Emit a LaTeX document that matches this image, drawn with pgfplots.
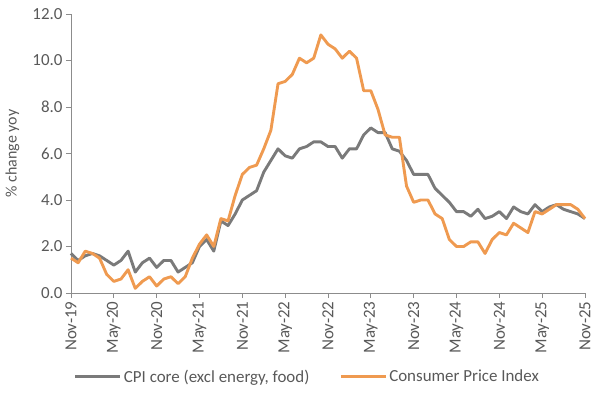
\documentclass[border=0pt]{standalone}
\usepackage{pgfplots}
\pgfplotsset{compat=1.18}
\usepackage{pgfplotstable}
\usepackage{fontspec}
\setmainfont{Carlito}
\definecolor{coregrey}{HTML}{7A7A7A}
\definecolor{cpiorange}{HTML}{EF9A50}
\definecolor{txtgrey}{HTML}{595959}
\definecolor{axgrey}{HTML}{8C8C8C}
\pgfplotstableread{
x core cpi
0 1.7 1.5
1 1.4 1.3
2 1.6 1.8
3 1.7 1.7
4 1.6 1.5
5 1.4 0.8
6 1.2 0.5
7 1.4 0.6
8 1.8 1.0
9 0.9 0.2
10 1.3 0.5
11 1.5 0.7
12 1.1 0.3
13 1.4 0.6
14 1.4 0.7
15 0.9 0.4
16 1.1 0.7
17 1.3 1.5
18 2.0 2.1
19 2.3 2.5
20 1.8 2.0
21 3.1 3.2
22 2.9 3.1
23 3.4 4.2
24 4.0 5.1
25 4.2 5.4
26 4.4 5.5
27 5.2 6.2
28 5.7 7.0
29 6.2 9.0
30 5.9 9.1
31 5.8 9.4
32 6.2 10.1
33 6.3 9.9
34 6.5 10.1
35 6.5 11.1
36 6.3 10.7
37 6.3 10.5
38 5.8 10.1
39 6.2 10.4
40 6.2 10.1
41 6.8 8.7
42 7.1 8.7
43 6.9 7.9
44 6.9 6.8
45 6.2 6.7
46 6.1 6.7
47 5.7 4.6
48 5.1 3.9
49 5.1 4.0
50 5.1 4.0
51 4.5 3.4
52 4.2 3.2
53 3.9 2.3
54 3.5 2.0
55 3.5 2.0
56 3.3 2.2
57 3.6 2.2
58 3.2 1.7
59 3.3 2.3
60 3.5 2.6
61 3.2 2.5
62 3.7 3.0
63 3.5 2.8
64 3.4 2.6
65 3.8 3.5
66 3.5 3.4
67 3.7 3.6
68 3.8 3.8
69 3.6 3.8
70 3.5 3.8
71 3.4 3.6
72 3.2 3.2
}\datatable
\begin{document}
\begin{tikzpicture}
\begin{axis}[
  scale only axis,
  width=514bp, height=279bp,
  xmin=0, xmax=72, ymin=0, ymax=12,
  axis x line*=bottom, axis y line*=left,
  axis line style={axgrey, line width=0.8bp, -},
  xtick={0,6,...,72},
  xticklabels={Nov-19,May-20,Nov-20,May-21,Nov-21,May-22,Nov-22,May-23,Nov-23,May-24,Nov-24,May-25,Nov-25},
  xticklabel style={rotate=90, anchor=east, font=\fontsize{17}{20}\selectfont, text=txtgrey},
  ytick={0,2,...,12},
  yticklabel style={font=\fontsize{17}{20}\selectfont, text=txtgrey},
  /pgf/number format/.cd, fixed, fixed zerofill, precision=1, assume math mode=true,
  /pgfplots/.cd,
  tick align=outside,
  major tick length=5bp,
  tick style={axgrey, line width=0.8bp},
  ylabel={\% change yoy},
  ylabel style={font=\fontsize{16}{19}\selectfont, text=txtgrey, at={(axis description cs:-0.114,0.5)}, anchor=center},
  legend columns=2,
  legend style={at={(0.46,-0.30)}, anchor=center, draw=none, fill=none,
    font=\fontsize{17}{20}\selectfont, text=txtgrey,
    /tikz/every even column/.append style={column sep=28bp}},
  legend image code/.code={\draw[#1] (0bp,0bp) -- (45bp,0bp);},
  clip=false,
]
\addplot[coregrey, line width=2.9bp, line join=round] table[x=x, y=core] {\datatable};
\addlegendentry{CPI core (excl energy, food)}
\addplot[cpiorange, line width=2.9bp, line join=round] table[x=x, y=cpi] {\datatable};
\addlegendentry{Consumer Price Index}
\end{axis}
\path (-71bp,-101bp) rectangle (529bp,293bp);
\end{tikzpicture}
\end{document}
